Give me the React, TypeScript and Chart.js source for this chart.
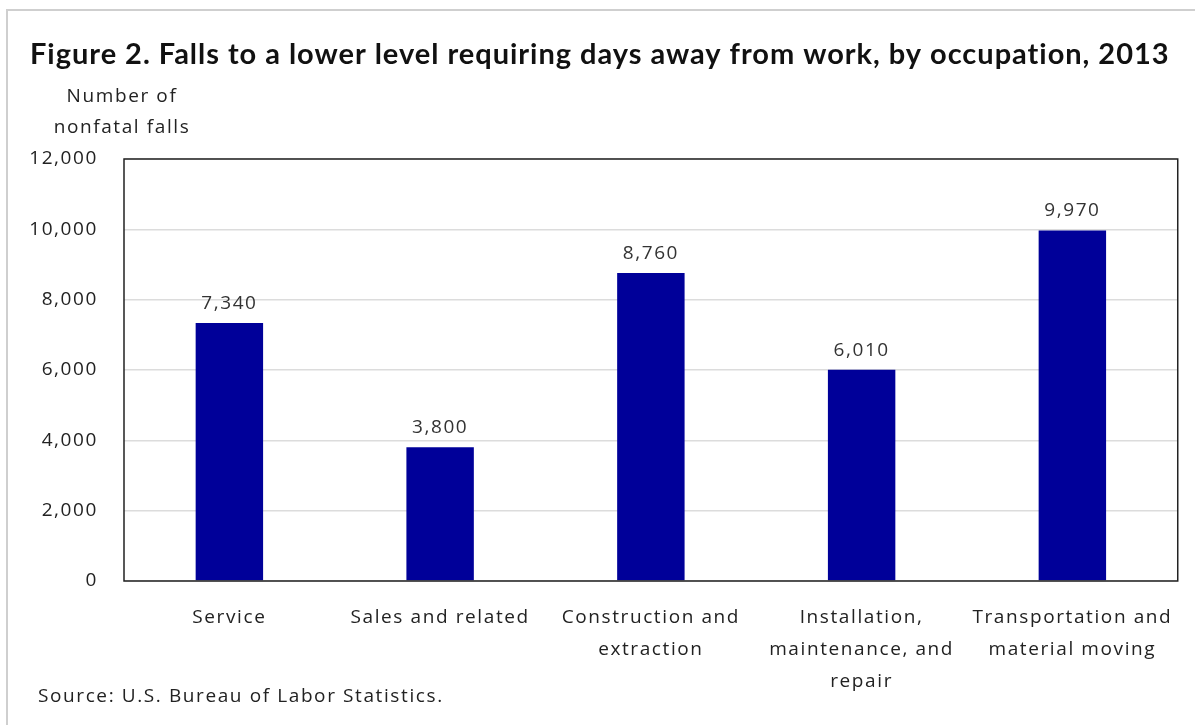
import React, { useEffect, useRef } from "react";
import { Chart, registerables } from "chart.js";

Chart.register(...registerables);

const categories: (string | string[])[] = [
  "Service",
  "Sales and related",
  ["Construction and", "extraction"],
  ["Installation,", "maintenance, and", "repair"],
  ["Transportation and", "material moving"],
];
const falls = [7340, 3800, 8760, 6010, 9970];
const yTickValues = [0, 2000, 4000, 6000, 8000, 10000, 12000];

const titleText = "Figure 2. Falls to a lower level requiring days away from work, by occupation, 2013";
const yLabelLines = ["Number of", "nonfatal falls"];
const sourceText = "Source: U.S. Bureau of Labor Statistics.";

const BODY_FONT = "'Open Sans', 'DejaVu Sans', sans-serif";
const TEXT = "#222222";
const TRACKING = "1.6px";
const TITLE_LEFT = 30;
const TITLE_RIGHT = 1170;

// Loose letter spacing for every label the chart draws
const tracking = {
  id: "tracking",
  beforeInit(chart: any) {
    chart.ctx.letterSpacing = TRACKING;
  },
  beforeLayout(chart: any) {
    chart.ctx.letterSpacing = TRACKING;
  },
  beforeDraw(chart: any) {
    chart.ctx.letterSpacing = TRACKING;
  },
};

const decorations = {
  id: "decorations",
  afterDraw(chart: any) {
    const { ctx, chartArea } = chart;
    ctx.save();

    // outer frame (left and top edges)
    ctx.strokeStyle = "#cfcfcf";
    ctx.lineWidth = 2;
    ctx.beginPath();
    ctx.moveTo(7, chart.height);
    ctx.lineTo(7, 10);
    ctx.lineTo(chart.width, 10);
    ctx.stroke();

    // plot frame
    ctx.strokeStyle = "#222222";
    ctx.lineWidth = 1.5;
    ctx.strokeRect(chartArea.left, chartArea.top, chartArea.right - chartArea.left, chartArea.bottom - chartArea.top);

    // title, spread across the full width
    ctx.fillStyle = "#111111";
    ctx.font = `bold 29px Lato, 'Open Sans', sans-serif`;
    ctx.letterSpacing = "0px";
    const natural = ctx.measureText(titleText).width;
    const extra = (TITLE_RIGHT - TITLE_LEFT - natural) / titleText.length;
    ctx.letterSpacing = `${extra}px`;
    ctx.textAlign = "left";
    ctx.textBaseline = "alphabetic";
    ctx.fillText(titleText, TITLE_LEFT, 64);

    ctx.letterSpacing = TRACKING;

    // y axis title
    ctx.fillStyle = TEXT;
    ctx.font = `19px ${BODY_FONT}`;
    ctx.textAlign = "center";
    ctx.textBaseline = "middle";
    yLabelLines.forEach((line, i) => ctx.fillText(line, chartArea.left - 2, 97 + i * 31));

    // source note
    ctx.textAlign = "left";
    ctx.fillText(sourceText, 38, 697);

    // value labels above bars
    const meta = chart.getDatasetMeta(0);
    ctx.fillStyle = "#333333";
    ctx.textAlign = "center";
    ctx.textBaseline = "alphabetic";
    meta.data.forEach((bar: any, i: number) => {
      ctx.fillText(falls[i].toLocaleString("en-US"), bar.x, bar.y - 14);
    });

    ctx.restore();
  },
};

export default function App() {
  const canvasRef = useRef<HTMLCanvasElement | null>(null);

  useEffect(() => {
    if (!canvasRef.current) return;
    const chart = new Chart(canvasRef.current, {
      type: "bar",
      data: {
        labels: categories,
        datasets: [
          {
            data: falls,
            backgroundColor: "#000099",
            borderWidth: 0,
            categoryPercentage: 1,
            barPercentage: 0.32,
          },
        ],
      },
      options: {
        animation: false,
        responsive: false,
        layout: { padding: { top: 159, left: 0, right: 17, bottom: 0 } },
        plugins: {
          legend: { display: false },
          title: { display: false },
          tooltip: { enabled: false },
        },
        scales: {
          x: {
            grid: { display: false, drawTicks: false },
            border: { display: false },
            ticks: {
              color: TEXT,
              font: { family: BODY_FONT, size: 19, lineHeight: 1.68 },
              padding: 21,
              maxRotation: 0,
              autoSkip: false,
            },
            afterFit(scale: any) {
              scale.height = 144;
            },
          },
          y: {
            min: 0,
            max: 12000,
            afterBuildTicks(scale: any) {
              scale.ticks = yTickValues.map((v) => ({ value: v }));
            },
            grid: {
              color: "#dcdcdc",
              lineWidth: 1.5,
              drawTicks: false,
            },
            border: { display: false },
            ticks: {
              color: TEXT,
              font: { family: BODY_FONT, size: 19 },
              padding: 26,
              callback: (v: any) => Number(v).toLocaleString("en-US"),
            },
            afterFit(scale: any) {
              scale.width = 124;
            },
          },
        },
      },
      plugins: [tracking, decorations],
    });
    return () => chart.destroy();
  }, []);

  return (
    <div style={{ position: "fixed", left: 0, top: 0, width: 1195, height: 725, background: "#ffffff" }}>
      <canvas ref={canvasRef} width={1195} height={725} style={{ display: "block" }} />
    </div>
  );
}
